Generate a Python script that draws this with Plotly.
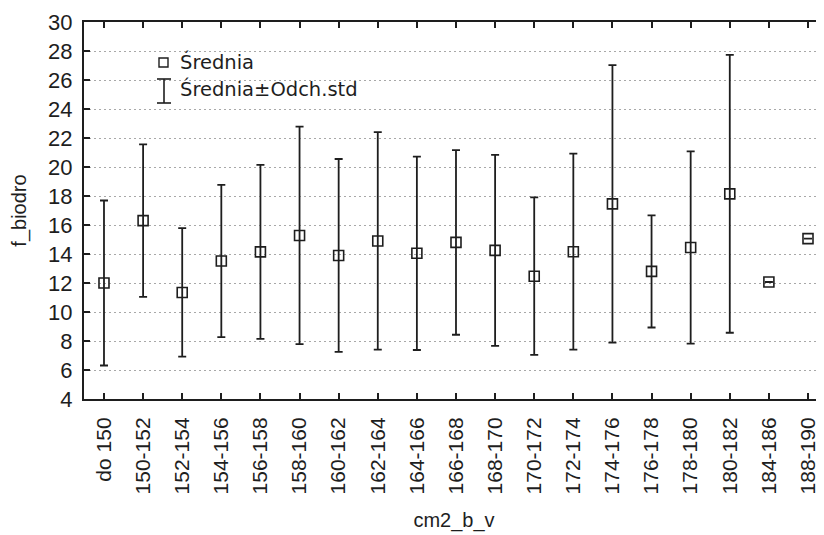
import plotly.graph_objects as go

categories = ["do 150", "150-152", "152-154", "154-156", "156-158", "158-160",
              "160-162", "162-164", "164-166", "166-168", "168-170", "170-172",
              "172-174", "174-176", "176-178", "178-180", "180-182", "184-186",
              "188-190"]
means = [12.0, 16.3, 11.35, 13.52, 14.15, 15.28, 13.9, 14.9, 14.05, 14.8,
         14.25, 12.47, 14.16, 17.46, 12.8, 14.45, 18.15, 12.07, 15.06]
sds = [5.69, 5.26, 4.43, 5.25, 6.0, 7.5, 6.65, 7.5, 6.67, 6.37,
       6.58, 5.43, 6.76, 9.57, 3.87, 6.63, 9.58, None, None]
y_ticks = list(range(4, 31, 2))

legend_labels = ["Średnia", "Średnia±Odch.std"]

FONT = "Liberation Sans, Arial, sans-serif"
INK = "#1e1e1e"

fig = go.Figure()
fig.add_trace(go.Scatter(
    x=categories, y=means, mode="markers",
    marker=dict(symbol="square-open", size=10, color=INK,
                line=dict(width=1.6, color=INK)),
    error_y=dict(type="data", array=sds, symmetric=True, visible=True,
                 color=INK, thickness=1.8, width=4),
    showlegend=False, cliponaxis=False,
))

# the page body adds an 8px offset, so the figure is sized to fill the rest
OFF = 8
W, H = 824 - OFF, 535 - OFF
L, R, T, B = 84 - OFF, 0, 22 - OFF, 535 - 399
pw, ph = W - L - R, H - T - B


def px_x(v):
    return (v - OFF - L) / pw


def px_y(v):
    return (H - B - (v - OFF)) / ph


shapes = [
    # legend icon: open square
    dict(type="rect", xref="paper", yref="paper",
         x0=px_x(159), x1=px_x(168), y0=px_y(67), y1=px_y(58),
         line=dict(color=INK, width=1.4)),
    # legend icon: whisker
    dict(type="line", xref="paper", yref="paper",
         x0=px_x(164), x1=px_x(164), y0=px_y(79), y1=px_y(103),
         line=dict(color=INK, width=1.6)),
    dict(type="line", xref="paper", yref="paper",
         x0=px_x(157), x1=px_x(171), y0=px_y(79), y1=px_y(79),
         line=dict(color=INK, width=1.6)),
    dict(type="line", xref="paper", yref="paper",
         x0=px_x(157), x1=px_x(171), y0=px_y(103), y1=px_y(103),
         line=dict(color=INK, width=1.6)),
]

annotations = [
    dict(text=legend_labels[0], xref="paper", yref="paper",
         x=px_x(178), y=px_y(62), xanchor="left", yanchor="middle",
         showarrow=False, font=dict(family="DejaVu Sans", size=19.5, color=INK)),
    dict(text=legend_labels[1], xref="paper", yref="paper",
         x=px_x(178), y=px_y(89), xanchor="left", yanchor="middle",
         showarrow=False, font=dict(family="DejaVu Sans", size=19.5, color=INK)),
]

fig.update_layout(
    template="none",
    width=W, height=H,
    margin=dict(l=L, r=R, t=T, b=B, pad=0, autoexpand=False),
    paper_bgcolor="white", plot_bgcolor="white",
    font=dict(family=FONT, size=22, color=INK),
    shapes=shapes, annotations=annotations,
)

fig.update_xaxes(
    automargin=False,
    type="category", categoryorder="array", categoryarray=categories,
    range=[-0.511, 18.409],
    showgrid=False, zeroline=False,
    showline=True, linecolor=INK, linewidth=2, mirror="ticks",
    ticks="inside", ticklen=6, tickwidth=1.5, tickcolor=INK,
    tickangle=-90, tickfont=dict(family=FONT, size=21, color=INK),
    ticklabelstandoff=8,
    title=dict(text="cm2_b_v", font=dict(family=FONT, size=20, color=INK), standoff=20),
)

fig.update_yaxes(
    automargin=False,
    range=[4, 30], tickvals=y_ticks, ticktext=[str(v) for v in y_ticks],
    showgrid=True, gridcolor="#a8a8a8", gridwidth=1, griddash="2px,3px",
    zeroline=False,
    showline=True, linecolor=INK, linewidth=2,
    ticks="inside", ticklen=6, tickwidth=1.5, tickcolor=INK,
    tickfont=dict(family=FONT, size=22, color=INK),
    ticklabelstandoff=5,
    title=dict(text="f_biodro", font=dict(family=FONT, size=20, color=INK), standoff=16),
)

fig.write_html("out.html")
